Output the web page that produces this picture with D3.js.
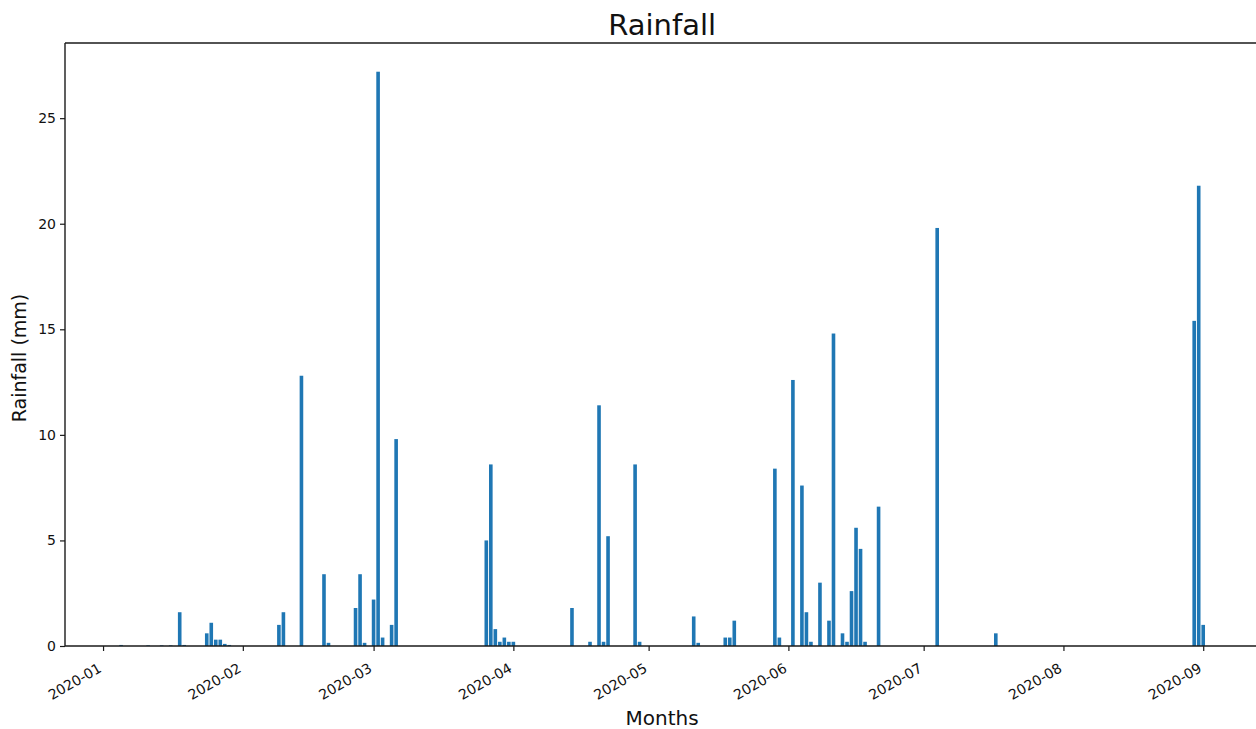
<!DOCTYPE html>
<html>
<head>
<meta charset="utf-8">
<script src="https://cdn.jsdelivr.net/npm/d3@7"></script>
<style>
  html, body { margin: 0; padding: 0; background: #fff; }
  svg { display: block; font-family: "DejaVu Sans", sans-serif; }
</style>
</head>
<body>
<svg id="chart" width="1256" height="729"></svg>
<script>
// ---- data ----
const dates = [
  "2020-01-05","2020-01-11","2020-01-14","2020-01-16","2020-01-18","2020-01-19",
  "2020-01-24","2020-01-25","2020-01-26","2020-01-27","2020-01-28","2020-01-29",
  "2020-02-09","2020-02-10","2020-02-14","2020-02-19","2020-02-20",
  "2020-02-26","2020-02-27","2020-02-28",
  "2020-03-01","2020-03-02","2020-03-03","2020-03-05","2020-03-06",
  "2020-03-26","2020-03-27","2020-03-28","2020-03-29","2020-03-30","2020-03-31","2020-04-01",
  "2020-04-14","2020-04-18","2020-04-20","2020-04-21","2020-04-22","2020-04-28","2020-04-29",
  "2020-05-11","2020-05-12","2020-05-18","2020-05-19","2020-05-20","2020-05-29","2020-05-30",
  "2020-06-02","2020-06-04","2020-06-05","2020-06-06","2020-06-08","2020-06-10","2020-06-11",
  "2020-06-13","2020-06-14","2020-06-15","2020-06-16","2020-06-17","2020-06-18","2020-06-21",
  "2020-07-04","2020-07-17",
  "2020-08-30","2020-08-31","2020-09-01"
];
const rainfall = [
  0.05,0.03,0.03,0.03,1.6,0.05,
  0.6,1.1,0.3,0.3,0.1,0.05,
  1.0,1.6,12.8,3.4,0.15,
  1.8,3.4,0.15,
  2.2,27.2,0.4,1.0,9.8,
  5.0,8.6,0.8,0.2,0.4,0.2,0.2,
  1.8,0.2,11.4,0.2,5.2,8.6,0.2,
  1.4,0.15,0.4,0.4,1.2,8.4,0.4,
  12.6,7.6,1.6,0.2,3.0,1.2,14.8,
  0.6,0.2,2.6,5.6,4.6,0.2,6.6,
  19.8,0.6,
  15.4,21.8,1.0
];
const xTickLabels = ["2020-01","2020-02","2020-03","2020-04","2020-05","2020-06","2020-07","2020-08","2020-09"];
const yTickValues = [0, 5, 10, 15, 20, 25];
const titleText = "Rainfall";
const xLabelText = "Months";
const yLabelText = "Rainfall (mm)";

// ---- layout ----
const svg = d3.select("#chart");
const plotL = 65, plotR = 1259.3, plotT = 43, plotB = 646;
const DAY = 864e5;
const parse = d3.utcParse("%Y-%m-%d");
const parseMonth = d3.utcParse("%Y-%m");
const data = dates.map((d, i) => ({ date: parse(d), value: rainfall[i] }));

// matplotlib-like autoscale: bar width 0.8 day, 5% margins
const barDays = 0.8;
const x0 = +d3.min(data, d => d.date) - barDays / 2 * DAY;
const x1 = +d3.max(data, d => d.date) + barDays / 2 * DAY;
const span = x1 - x0;
const x = d3.scaleUtc()
  .domain([new Date(x0 - 0.05 * span), new Date(x1 + 0.05 * span)])
  .range([plotL, plotR]);
const yMax = d3.max(rainfall) * 1.05;
const y = d3.scaleLinear().domain([0, yMax]).range([plotB, plotT]);

const pxPerDay = x(new Date(DAY)) - x(new Date(0));
const barW = barDays * pxPerDay;

// bars
svg.append("g").selectAll("rect").data(data).enter().append("rect")
  .attr("x", d => x(d.date) - barW / 2)
  .attr("y", d => y(d.value))
  .attr("width", barW)
  .attr("height", d => plotB - y(d.value))
  .attr("fill", "#1f77b4");

// spines
const spine = svg.append("g").attr("stroke", "#1a1a1a").attr("stroke-width", 1.4).attr("fill", "none");
spine.append("path").attr("d", `M${plotL},${plotB}H${plotR}`);
spine.append("path").attr("d", `M${plotL},${plotT}H${plotR}`);
spine.append("path").attr("d", `M${plotL},${plotT}V${plotB}`);
spine.append("path").attr("d", `M${plotR},${plotT}V${plotB}`);

// x axis
const xTicks = xTickLabels.map(s => parseMonth(s));
const xAxis = d3.axisBottom(x).tickValues(xTicks).tickFormat(d3.utcFormat("%Y-%m"))
  .tickSize(5).tickPadding(3);
const gx = svg.append("g").attr("transform", `translate(0,${plotB})`).call(xAxis);
gx.select(".domain").remove();
gx.selectAll(".tick line").attr("stroke", "#1a1a1a").attr("stroke-width", 1.2);
gx.selectAll(".tick text")
  .attr("font-size", 14).attr("fill", "#111")
  .attr("font-family", "DejaVu Sans, sans-serif")
  .attr("text-anchor", "end")
  .attr("dy", null).attr("y", null)
  .attr("transform", "translate(-1,25) rotate(-30)");

// y axis
const yAxis = d3.axisLeft(y).tickValues(yTickValues).tickFormat(d3.format("d"))
  .tickSize(5).tickPadding(4);
const gy = svg.append("g").attr("transform", `translate(${plotL},0)`).call(yAxis);
gy.select(".domain").remove();
gy.selectAll(".tick line").attr("stroke", "#1a1a1a").attr("stroke-width", 1.2);
gy.selectAll(".tick text").attr("font-size", 14).attr("fill", "#111")
  .attr("font-family", "DejaVu Sans, sans-serif");

// title and labels
svg.append("text").attr("x", (plotL + plotR) / 2).attr("y", 35)
  .attr("text-anchor", "middle").attr("font-size", 29).attr("fill", "#111")
  .text(titleText);
svg.append("text").attr("x", (plotL + plotR) / 2).attr("y", 725)
  .attr("text-anchor", "middle").attr("font-size", 20).attr("fill", "#111")
  .text(xLabelText);
svg.append("text")
  .attr("transform", `translate(26,358) rotate(-90)`)
  .attr("text-anchor", "middle").attr("font-size", 19).attr("fill", "#111")
  .text(yLabelText);
</script>
</body>
</html>
